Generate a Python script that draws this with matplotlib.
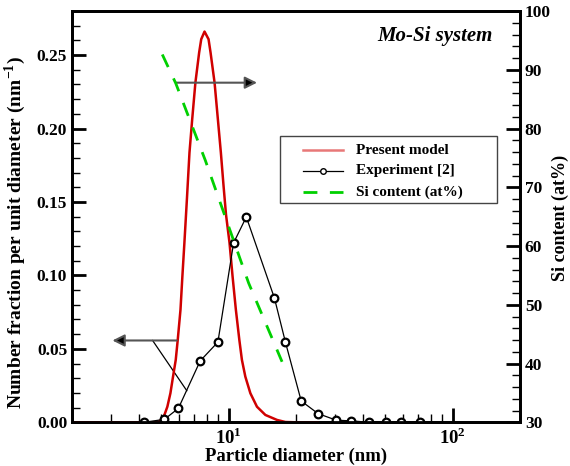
import numpy as np
import matplotlib
matplotlib.use("Agg")
import matplotlib.pyplot as plt
from matplotlib.lines import Line2D
from matplotlib.patches import Rectangle
from matplotlib.ticker import MultipleLocator, FixedLocator, FixedFormatter, NullFormatter

plt.rcParams['font.family'] = ['Liberation Serif', 'DejaVu Serif']
plt.rcParams['font.weight'] = 'bold'
plt.rcParams['mathtext.fontset'] = 'custom'
plt.rcParams['mathtext.rm'] = 'Liberation Serif:bold'
plt.rcParams['mathtext.bf'] = 'Liberation Serif:bold'

#--------------------------------------------------------------------------------------------------
# present model (red curve)
model_d = [2.0, 4.5, 4.86, 5.0, 5.17, 5.33, 5.50, 5.65, 5.81, 5.93, 6.10, 6.22, 6.35, 6.52,
           6.69, 6.88, 7.11, 7.39, 7.55, 7.81, 8.14, 8.31, 8.66, 8.96, 9.24, 9.50, 9.74, 10.10,
           10.42, 10.78, 11.17, 11.47, 11.88, 12.51, 13.39, 14.60, 16.46, 17.94, 20.0, 25.0]
model_f = [0.0, 0.0, 0.0002, 0.0016, 0.0050, 0.0106, 0.0198, 0.0311, 0.0425, 0.0561, 0.0766, 0.0993,
           0.1221, 0.1525, 0.1835, 0.2062, 0.2312, 0.2517, 0.2608, 0.2660, 0.2608, 0.2517,
           0.2312, 0.2062, 0.1835, 0.1607, 0.1414, 0.1221, 0.0993, 0.0766, 0.0561, 0.0425, 0.0311,
           0.0198, 0.0106, 0.0050, 0.0016, 0.0002, 0.0, 0.0]

# experiment [2]
exp_d = [4.19, 5.17, 5.97, 7.47, 8.96, 10.53, 12.0, 16.02, 17.94, 21.1, 25.1, 30.3, 35.2, 42.5, 50.6, 59.0, 71.3]
exp_f = [0.0, 0.002, 0.0095, 0.0418, 0.0546, 0.1221, 0.1398, 0.0846, 0.0546, 0.0145, 0.0059, 0.0014,
         0.0010, 0.0, 0.0, 0.0, 0.0]

# Si content (right axis)
si_d = [5.06, 5.81, 7.87, 12.29, 17.33]
si_c = [92.6, 87.7, 74.6, 53.7, 40.3]

labels = ['Present model', 'Experiment [2]', 'Si content (at%)']

# arrow annotations (data coords)
arrow_right = ((5.83, 0.2312), (13.4, 0.2312))
arrow_left = ((5.87, 0.0557), (3.03, 0.0557))
leader = ((4.58, 0.0557), (6.51, 0.0215))

#--------------------------------------------------------------------------------------------------
fig = plt.figure(figsize=(5.70, 4.66), dpi=100)
ax = fig.add_axes([72/570, 1 - 422.3/466, (520 - 72)/570, (422.3 - 11)/466])
ax2 = ax.twinx()

red_style = dict(color='#d00000', lw=1.8)
exp_style = dict(color='black', lw=0.9, marker='o', ms=5.5, mfc='white', mec='black', mew=1.6)
si_style = dict(color='#00d000', lw=2.0, dashes=(5, 4.5))

ax.plot(model_d, model_f, zorder=3, **red_style)
ax.plot(exp_d, exp_f, zorder=4, **exp_style)
ax2.plot(si_d, si_c, **si_style)

ax.set_xscale('log')
ax.set_xlim(2, 200)
ax.set_ylim(0, 0.28)
ax2.set_ylim(30, 100)

# arrows
for a0, a1 in (arrow_right, arrow_left):
    ax.annotate('', xy=a1, xytext=a0,
                arrowprops=dict(arrowstyle='-|>', lw=1.5, mutation_scale=18,
                                shrinkA=0, shrinkB=0, fc='black', ec='#555555'))
ax.plot([leader[0][0], leader[1][0]], [leader[0][1], leader[1][1]], color='black', lw=0.9)

# ticks
ax.xaxis.set_major_locator(FixedLocator([10, 100]))
ax.xaxis.set_major_formatter(FixedFormatter([r'$10^1$', r'$10^2$']))
minors = [m * 10**e for e in (0, 1, 2) for m in range(2, 10)]
ax.xaxis.set_minor_locator(FixedLocator(minors))
ax.xaxis.set_minor_formatter(NullFormatter())
ax.yaxis.set_major_locator(MultipleLocator(0.05))
ax.yaxis.set_minor_locator(MultipleLocator(0.01))
ax.yaxis.set_major_formatter(plt.FormatStrFormatter('%.2f'))
ax2.yaxis.set_major_locator(MultipleLocator(10))
ax2.yaxis.set_minor_locator(MultipleLocator(2))

ax.tick_params(which='both', direction='in', top=False, right=False, labelsize=12.5)
ax.tick_params(which='major', length=10, width=2)
ax.tick_params(which='minor', length=6, width=1)
ax.tick_params(axis='x', which='major', labelsize=13.5)
ax2.tick_params(which='both', direction='in', labelsize=12.5)
ax2.tick_params(which='major', length=10, width=2)
ax2.tick_params(which='minor', length=6, width=1)

for a in (ax, ax2):
    for s in a.spines.values():
        s.set_linewidth(2)

ax.set_xlabel('Particle diameter (nm)', fontsize=13.5, fontweight='bold', labelpad=0)
ax.set_ylabel(r'Number fraction per unit diameter (nm$^{-1}$)', fontsize=14, fontweight='bold')
ax.yaxis.set_label_coords(-0.098, 0.462)
ax2.set_ylabel('Si content (at%)', fontsize=13, fontweight='bold')
ax2.yaxis.set_label_coords(1.071, 0.496)

ax.text(0.94, 0.939, 'Mo-Si system', transform=ax.transAxes, ha='right', va='center',
        fontsize=15, fontweight='bold', fontstyle='italic')

# legend box drawn by hand to match the layout
ax2.add_patch(Rectangle((0.4643, 0.5332), 0.4844, 0.1629, transform=ax.transAxes,
                        fill=True, fc='white', ec='#444444', lw=1.0, zorder=10))
rows = [0.662, 0.611, 0.560]
handles = [dict(color='#e87878', lw=1.8),
           dict(exp_style, ms=4, mew=1.0, markevery=[1]),
           si_style]
for y, lab, st in zip(rows, labels, handles):
    ax2.add_line(Line2D([0.515, 0.56, 0.6055], [y, y, y], transform=ax.transAxes,
                        zorder=11, **st))
    ax2.text(0.634, y, lab, transform=ax.transAxes, ha='left', va='center',
             fontsize=11, fontweight='bold', zorder=12)

fig.savefig('out.png', dpi=100)
